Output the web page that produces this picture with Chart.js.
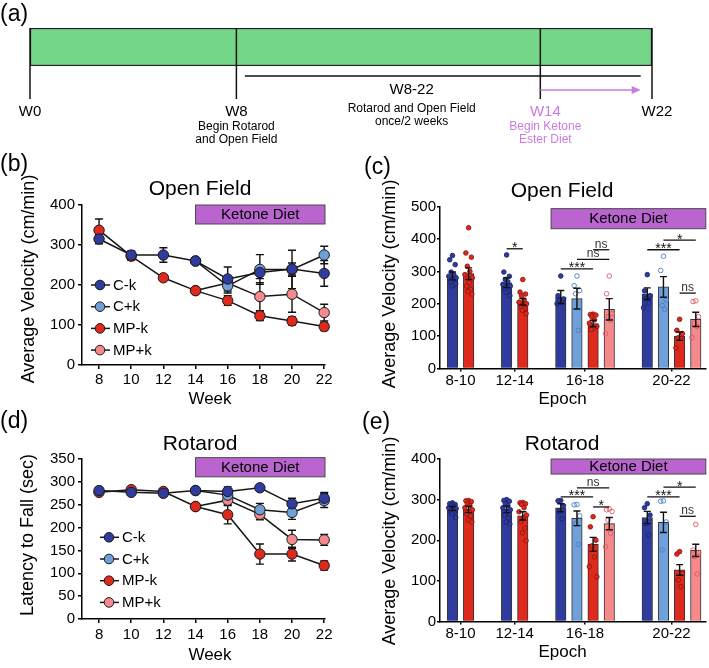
<!DOCTYPE html>
<html>
<head>
<meta charset="utf-8">
<title>Open Field and Rotarod</title>
<script src="https://cdn.jsdelivr.net/npm/chart.js@4.4.1/dist/chart.umd.min.js"></script>
<style>
  html, body { margin: 0; padding: 0; background: #fff; }
  body { width: 709px; height: 668px; position: relative; overflow: hidden;
         font-family: 'Liberation Sans', Arial, Helvetica, sans-serif; color: #000; }
  canvas { position: absolute; left: 0; top: 0; }
  .tag { position: absolute; font-size: 23px; line-height: 23px; white-space: nowrap; }
  .head { position: absolute; font-size: 21px; line-height: 21px; white-space: nowrap; transform: translateX(-50%); }
</style>
</head>
<body>
<canvas id="timeline" width="709" height="668"></canvas>
<canvas id="ofWeekly" width="709" height="668"></canvas>
<canvas id="ofEpoch" width="709" height="668"></canvas>
<canvas id="rrWeekly" width="709" height="668"></canvas>
<canvas id="rrEpoch" width="709" height="668"></canvas>

<div class="tag" style="left:0;top:2px">(a)</div>
<div class="tag" style="left:0;top:152px">(b)</div>
<div class="tag" style="left:364px;top:155px">(c)</div>
<div class="tag" style="left:0;top:409px">(d)</div>
<div class="tag" style="left:362px;top:410px">(e)</div>
<div class="head" style="left:200px;top:177px">Open Field</div>
<div class="head" style="left:562px;top:179px">Open Field</div>
<div class="head" style="left:200px;top:432px">Rotarod</div>
<div class="head" style="left:562px;top:432px">Rotarod</div>

<script>
/* ===========================
   (a) TIMELINE
=========================== */

const timelineLabels = ['W0', 'W8', 'W14', 'W22'];
const timelinePos = [0, 7.3, 18.05, 22];          // where each marker sits on the drawn schematic
const timelineNotes = [[], ['Begin Rotarod', 'and Open Field'], ['Begin Ketone', 'Ester Diet'], []];
const testingSpan = [7.6, 21.6];
const dietSpan = [18.05, 21.6];
const testingText = ['W8-22', 'Rotarod and Open Field', 'once/2 weeks'];
const testingTextPos = 13.5;

/* ===========================
   (b) + (d) WEEKLY DATA
=========================== */

const weeks = [8, 10, 12, 14, 16, 18, 20, 22];
const groups = ['C-k', 'C+k', 'MP-k', 'MP+k'];
const dietStartWeek = 14;

// Open Field, average velocity (cm/min), mean and SEM
const ofWeekCk      = [315, 275, 275, 260, 215, 231, 240, 229];
const ofWeekCkErr   = [12, 10, 18, 5, 30, 15, 15, 32];
const ofWeekCpk     = [null, null, null, 260, 198, 239, 239, 275];
const ofWeekCpkErr  = [null, null, null, 0, 18, 37, 48, 22];
const ofWeekMPk     = [337, 272, 218, 186, 161, 123, 110, 96];
const ofWeekMPkErr  = [28, 10, 5, 5, 12, 12, 10, 10];
const ofWeekMPpk    = [null, null, null, 186, 205, 171, 177, 131];
const ofWeekMPpkErr = [null, null, null, 0, 15, 35, 45, 21];

// Rotarod, latency to fall (sec)
const rrWeekCk      = [281, 277, 275, 281, 279, 287, 252, 264];
const rrWeekCkErr   = [5, 5, 5, 5, 10, 5, 12, 13];
const rrWeekCpk     = [null, null, null, 281, 271, 239, 233, 259];
const rrWeekCpkErr  = [null, null, null, 0, 10, 14, 15, 15];
const rrWeekMPk     = [277, 283, 279, 246, 228, 142, 142, 117];
const rrWeekMPkErr  = [5, 5, 5, 5, 20, 22, 15, 10];
const rrWeekMPpk    = [null, null, null, 246, 260, 229, 174, 173];
const rrWeekMPpkErr = [null, null, null, 0, 10, 12, 20, 12];

/* ===========================
   (c) + (e) EPOCH DATA
=========================== */

const epochs = ['8-10', '12-14', '16-18', '20-22'];

// Open Field bars (mean, SEM)
const ofBarCk      = [286, 265, 221, 231];
const ofBarCkErr   = [12, 15, 20, 18];
const ofBarCpk     = [null, null, 216, 252];
const ofBarCpkErr  = [null, null, 32, 32];
const ofBarMPk     = [293, 206, 139, 100];
const ofBarMPkErr  = [18, 10, 10, 13];
const ofBarMPpk    = [null, null, 183, 152];
const ofBarMPpkErr = [null, null, 33, 22];

// Open Field individual animals
const ofDotsCk = [
    [349, 336, 321, 298, 290, 285, 280, 275, 268, 260, 255, 262],
    [351, 298, 285, 275, 268, 260, 255, 250, 245, 240, 235, 225],
    [286, 225, 215, 210, 205, 200],
    [290, 240, 225, 216, 202, 188]
];
const ofDotsCpk = [null, null, [286, 256, 241, 231, 118], [347, 303, 211, 195, 183]];
const ofDotsMPk = [
    [435, 357, 344, 316, 300, 290, 280, 265, 255, 245, 238, 230],
    [275, 236, 230, 225, 212, 205, 200, 195, 190, 185, 180, 170],
    [168, 167, 165, 160, 150, 140, 130, 125, 120],
    [152, 118, 108, 95, 93, 64]
];
const ofDotsMPpk = [null, null, [286, 231, 170, 160, 149, 108], [209, 207, 160, 140, 130, 96]];

// Rotarod bars (mean, SEM)
const rrBarCk      = [278, 276, 280, 256];
const rrBarCkErr   = [5, 8, 10, 15];
const rrBarCpk     = [null, null, 254, 244];
const rrBarCpkErr  = [null, null, 18, 25];
const rrBarMPk     = [276, 260, 190, 127];
const rrBarMPkErr  = [8, 10, 17, 13];
const rrBarMPpk    = [null, null, 241, 175];
const rrBarMPpkErr = [null, null, 15, 15];

// Rotarod individual animals
const rrDotsCk = [
    [292, 290, 288, 285, 283, 280, 278, 275, 272, 270, 265, 256],
    [300, 298, 296, 290, 285, 280, 275, 270, 262, 255, 245, 240],
    [298, 297, 285, 270, 253],
    [290, 280, 262, 241, 213]
];
const rrDotsCpk = [null, null, [288, 287, 260, 241, 190], [297, 296, 245, 176]];
const rrDotsMPk = [
    [298, 297, 295, 290, 285, 280, 275, 270, 265, 260, 250, 245],
    [293, 292, 290, 288, 280, 270, 262, 255, 245, 230, 218, 199],
    [258, 233, 200, 186, 159, 135, 110],
    [172, 166, 118, 102, 86]
];
const rrDotsMPpk = [null, null, [277, 275, 271, 250, 217, 184], [239, 176, 170, 160, 117]];

// significance brackets (epoch, from group, to group, height, mark)
const ofSig = [
    [1, 'C-k', 'MP-k', 370, '*'],
    [2, 'C-k', 'MP-k', 308, '***'],
    [2, 'C+k', 'MP+k', 337, 'ns'],
    [2, 'MP-k', 'MP+k', 367, 'ns'],
    [3, 'C-k', 'MP-k', 367, '***'],
    [3, 'C+k', 'MP+k', 397, '*'],
    [3, 'MP-k', 'MP+k', 233, 'ns']
];
const rrSig = [
    [2, 'C-k', 'MP-k', 307, '***'],
    [2, 'C+k', 'MP+k', 329, 'ns'],
    [2, 'MP-k', 'MP+k', 282, '*'],
    [3, 'C-k', 'MP-k', 307, '***'],
    [3, 'C+k', 'MP+k', 331, '*'],
    [3, 'MP-k', 'MP+k', 259, 'ns']
];

/* ===========================
   STYLE
=========================== */

const FONT = "'Liberation Sans', Arial, Helvetica, sans-serif";
Chart.defaults.font.family = FONT;
Chart.defaults.font.size = 15;
Chart.defaults.color = '#000';

const groupColors = { 'C-k': '#2f3c9e', 'C+k': '#6fa0da', 'MP-k': '#e0291d', 'MP+k': '#f5898b' };
const dotEdge = { 'C-k': '#1c2570', 'C+k': '#4a7cc6', 'MP-k': '#8e1710', 'MP+k': '#e05a64' };
const KETONE = '#b964cf';
const LILAC = '#c97be3';
const GREEN = '#74d688';
const jitter = [0, -0.17, 0.17, -0.08, 0.08, -0.23, 0.23, 0.03, -0.12, 0.12, -0.03, 0.2];

// bars in an epoch sit one slot apart, epochs separated by a wider gap
const epochGroups = [['C-k', 'MP-k'], ['C-k', 'MP-k'], groups, groups];
const EPOCH_GAP = 2.35;
const epochStart = [];
epochGroups.reduce((s, g, i) => { epochStart[i] = s; return s + g.length - 1 + EPOCH_GAP; }, 0);
const barSlot = (e, g) => epochStart[e] + epochGroups[e].indexOf(g);
const epochCenter = e => epochStart[e] + (epochGroups[e].length - 1) / 2;

/* ===========================
   HELPERS
=========================== */

function padFor(area, yw, xh) {
    return { left: area.left - yw, right: 709 - area.right, top: area.top, bottom: 668 - area.bottom - xh };
}

function yAxisCfg(max, step, tl, pad) {
    return {
        type: 'linear', min: 0, max: max,
        afterFit: s => { s.width = 40; },
        ticks: { stepSize: step, padding: pad, color: '#000', font: { size: 15 } },
        grid: { drawOnChartArea: false, drawTicks: true, tickLength: tl, color: '#000', lineWidth: 1.5 },
        border: { display: true, color: '#000', width: 1.5 }
    };
}

function xAxisCfg(min, max, values, labels, tl, pad) {
    return {
        type: 'linear', min: min, max: max, offset: false,
        afterFit: s => { s.height = 30; },
        afterBuildTicks: s => { s.ticks = values.map(v => ({ value: v })); },
        ticks: { autoSkip: false, maxRotation: 0, padding: pad, color: '#000', font: { size: 15 },
                 callback: (v, i) => labels[i] },
        grid: { offset: false, drawOnChartArea: false, drawTicks: true, tickLength: tl, color: '#000', lineWidth: 1.5 },
        border: { display: true, color: '#000', width: 1.5 }
    };
}

function drawErrors(chart, capHalf) {
    const ctx = chart.ctx;
    ctx.save();
    ctx.strokeStyle = '#111';
    ctx.lineWidth = 1.4;
    chart.data.datasets.forEach((ds, i) => {
        if (!ds.withErrors) return;
        const meta = chart.getDatasetMeta(i);
        const ys = chart.scales[meta.yAxisID];
        meta.data.forEach((el, j) => {
            const d = ds.data[j];
            if (!d || d.y == null || !d.err) return;
            const top = ys.getPixelForValue(d.y + d.err);
            const bot = ys.getPixelForValue(d.y - d.err);
            ctx.beginPath();
            ctx.moveTo(el.x, top); ctx.lineTo(el.x, bot);
            ctx.moveTo(el.x - capHalf, top); ctx.lineTo(el.x + capHalf, top);
            ctx.moveTo(el.x - capHalf, bot); ctx.lineTo(el.x + capHalf, bot);
            ctx.stroke();
        });
    });
    ctx.restore();
}

function drawKetone(chart, fromX, band) {
    const { ctx, scales: { x, y } } = chart;
    const left = x.getPixelForValue(fromX), right = x.getPixelForValue(x.max);
    const top = y.getPixelForValue(band[1]), bot = y.getPixelForValue(band[0]);
    ctx.save();
    ctx.fillStyle = KETONE;
    ctx.fillRect(left, top, right - left, bot - top);
    ctx.strokeStyle = '#4a4a4a';
    ctx.lineWidth = 1;
    ctx.strokeRect(left, top, right - left, bot - top);
    ctx.fillStyle = '#000';
    ctx.font = '15px ' + FONT;
    ctx.textAlign = 'center';
    ctx.textBaseline = 'middle';
    ctx.fillText('Ketone Diet', (left + right) / 2, (top + bot) / 2 + 0.5);
    ctx.restore();
}

function drawLegend(chart, lg) {
    const ctx = chart.ctx;
    ctx.save();
    groups.forEach((g, i) => {
        const cy = lg.y + i * lg.dy;
        ctx.strokeStyle = '#161616';
        ctx.lineWidth = 1.5;
        ctx.beginPath();
        ctx.moveTo(lg.x - 9, cy); ctx.lineTo(lg.x + 10, cy);
        ctx.stroke();
        ctx.beginPath();
        ctx.arc(lg.x, cy, 4.8, 0, Math.PI * 2);
        ctx.fillStyle = groupColors[g];
        ctx.fill();
        ctx.lineWidth = 1;
        ctx.strokeStyle = '#1a1a1a';
        ctx.stroke();
        ctx.fillStyle = '#000';
        ctx.font = '15px ' + FONT;
        ctx.textAlign = 'left';
        ctx.textBaseline = 'middle';
        ctx.fillText(g, lg.x + 13, cy + 0.5);
    });
    ctx.restore();
}

function drawTitles(chart, t) {
    const ctx = chart.ctx;
    ctx.save();
    ctx.fillStyle = '#000';
    ctx.textAlign = 'center';
    ctx.textBaseline = 'middle';
    ctx.font = '17px ' + FONT;
    ctx.fillText(t.x, t.xPos[0], t.xPos[1]);
    ctx.translate(t.yPos[0], t.yPos[1]);
    ctx.rotate(-Math.PI / 2);
    ctx.font = '18px ' + FONT;
    ctx.fillText(t.y, 0, 0);
    ctx.restore();
}

function drawSig(chart, list) {
    const { ctx, scales: { x, y } } = chart;
    ctx.save();
    ctx.textAlign = 'center';
    ctx.textBaseline = 'alphabetic';
    list.forEach(([e, from, to, h, mark]) => {
        const x0 = x.getPixelForValue(barSlot(e, from));
        const x1 = x.getPixelForValue(barSlot(e, to));
        const py = y.getPixelForValue(h);
        ctx.strokeStyle = '#111';
        ctx.lineWidth = 1.3;
        ctx.beginPath();
        ctx.moveTo(x0, py); ctx.lineTo(x1, py);
        ctx.stroke();
        if (mark === 'ns') {
            ctx.fillStyle = '#333';
            ctx.font = '12px ' + FONT;
            ctx.fillText(mark, (x0 + x1) / 2, py - 2);
        } else {
            ctx.fillStyle = '#111';
            ctx.font = '14px ' + FONT;
            ctx.fillText(mark, (x0 + x1) / 2, py + 3.5);
        }
    });
    ctx.restore();
}

/* ===========================
   (a) TIMELINE CHART
=========================== */

const timelinePlugin = {
    id: 'timelineMarks',
    afterDraw(chart) {
        const { ctx, chartArea: a, scales: { x } } = chart;
        const px = v => x.getPixelForValue(v);
        const shift = [0, 0, 5, 5];
        ctx.save();
        ctx.strokeStyle = '#111';
        ctx.lineWidth = 1.5;
        timelinePos.forEach(p => {
            ctx.beginPath();
            ctx.moveTo(px(p), a.top); ctx.lineTo(px(p), a.bottom + 33);
            ctx.stroke();
        });
        ctx.beginPath();
        ctx.moveTo(px(testingSpan[0]), a.bottom + 10); ctx.lineTo(px(testingSpan[1]), a.bottom + 10);
        ctx.stroke();

        const ay = a.bottom + 24, tip = px(dietSpan[1]);
        ctx.strokeStyle = LILAC;
        ctx.fillStyle = LILAC;
        ctx.beginPath();
        ctx.moveTo(px(dietSpan[0]), ay); ctx.lineTo(tip - 6, ay);
        ctx.stroke();
        ctx.beginPath();
        ctx.moveTo(tip, ay); ctx.lineTo(tip - 9, ay - 4); ctx.lineTo(tip - 9, ay + 4);
        ctx.closePath();
        ctx.fill();

        ctx.textAlign = 'center';
        ctx.textBaseline = 'middle';
        timelineLabels.forEach((t, i) => {
            const cx = px(timelinePos[i]) + shift[i];
            ctx.fillStyle = i === 2 ? LILAC : '#000';
            ctx.font = '15px ' + FONT;
            ctx.fillText(t, cx, a.bottom + 46);
            ctx.font = '12px ' + FONT;
            timelineNotes[i].forEach((n, k) => ctx.fillText(n, cx, a.bottom + 61 + k * 13));
        });
        ctx.fillStyle = '#000';
        ctx.font = '15px ' + FONT;
        ctx.fillText(testingText[0], px(testingTextPos), a.bottom + 24);
        ctx.font = '12px ' + FONT;
        ctx.fillText(testingText[1], px(testingTextPos), a.bottom + 43);
        ctx.fillText(testingText[2], px(testingTextPos), a.bottom + 56);
        ctx.restore();
    }
};

new Chart(document.getElementById('timeline'), {
    type: 'bar',
    data: {
        labels: ['study'],
        datasets: [{
            data: [[timelinePos[0], timelinePos[timelinePos.length - 1]]],
            backgroundColor: GREEN,
            borderColor: '#222',
            borderWidth: 1.5,
            borderSkipped: false,
            barPercentage: 1,
            categoryPercentage: 1
        }]
    },
    options: {
        indexAxis: 'y',
        responsive: false,
        animation: false,
        events: [],
        layout: { padding: { left: 30, right: 57, top: 28, bottom: 602 } },
        scales: {
            x: { type: 'linear', min: 0, max: 22, display: false },
            y: { display: false }
        },
        plugins: { legend: { display: false }, tooltip: { enabled: false } }
    },
    plugins: [timelinePlugin]
});

/* ===========================
   (b) + (d) LINE CHARTS
=========================== */

function weeklyChart(id, area, yMax, yStep, series, opt) {
    const datasets = series.map((s, i) => ({
        label: groups[i],
        data: weeks.map((w, j) => ({ x: w, y: s[0][j], err: s[1][j] })),
        withErrors: true,
        borderColor: '#161616',
        borderWidth: 1.5,
        pointRadius: 5.2,
        pointHoverRadius: 5.2,
        pointBackgroundColor: groupColors[groups[i]],
        pointBorderColor: '#1a1a1a',
        pointBorderWidth: 1,
        clip: false,
        spanGaps: false
    }));
    new Chart(document.getElementById(id), {
        type: 'line',
        data: { datasets },
        options: {
            responsive: false,
            animation: false,
            events: [],
            layout: { padding: padFor(area, 40, 30) },
            scales: {
                x: xAxisCfg(6.94, 22.05, weeks, weeks.map(String), 4, opt.xPad),
                y: yAxisCfg(yMax, yStep, 4, 3)
            },
            plugins: { legend: { display: false }, tooltip: { enabled: false } }
        },
        plugins: [{
            id: id + 'Marks',
            beforeDatasetsDraw: c => drawErrors(c, 4),
            afterDraw: c => {
                drawKetone(c, dietStartWeek, opt.band);
                drawLegend(c, opt.legend);
                drawTitles(c, opt.titles);
            }
        }]
    });
}

weeklyChart('ofWeekly', { left: 82, right: 325, top: 205, bottom: 365 }, 400, 100,
    [[ofWeekCk, ofWeekCkErr], [ofWeekCpk, ofWeekCpkErr], [ofWeekMPk, ofWeekMPkErr], [ofWeekMPpk, ofWeekMPpkErr]],
    {
        xPad: 2,
        band: [352.5, 400],
        legend: { x: 100, y: 285, dy: 21.7 },
        titles: { x: 'Week', xPos: [210, 399], y: 'Average Velocity (cm/min)', yPos: [29, 279] }
    });

weeklyChart('rrWeekly', { left: 82, right: 325, top: 459, bottom: 619 }, 350, 50,
    [[rrWeekCk, rrWeekCkErr], [rrWeekCpk, rrWeekCpkErr], [rrWeekMPk, rrWeekMPkErr], [rrWeekMPpk, rrWeekMPpkErr]],
    {
        xPad: 3,
        band: [311, 353],
        legend: { x: 109, y: 537.3, dy: 21.7 },
        titles: { x: 'Week', xPos: [210, 655], y: 'Latency to Fall (sec)', yPos: [28, 535] }
    });

/* ===========================
   (c) + (e) BAR CHARTS
=========================== */

function epochChart(id, area, yMax, bars, dots, sig, opt) {
    const datasets = [];
    groups.forEach((g, gi) => {
        const pts = [];
        bars[gi][0].forEach((v, e) => {
            if (v != null) pts.push({ x: barSlot(e, g), y: v, err: bars[gi][1][e] });
        });
        datasets.push({
            type: 'bar', label: g, data: pts, withErrors: true,
            backgroundColor: groupColors[g], borderColor: '#333', borderWidth: 1,
            barThickness: 10.5, grouped: false, order: 2
        });
    });
    groups.forEach((g, gi) => {
        const pts = [];
        dots[gi].forEach((list, e) => {
            if (!list) return;
            list.forEach((v, k) => pts.push({ x: barSlot(e, g) + jitter[k % jitter.length], y: v }));
        });
        const hollow = g.indexOf('+') > -1;
        datasets.push({
            type: 'scatter', label: g + ' animals', data: pts,
            pointRadius: 2.3, pointHoverRadius: 2.3,
            pointBackgroundColor: hollow ? 'rgba(255,255,255,0)' : groupColors[g],
            pointBorderColor: dotEdge[g], pointBorderWidth: 0.9,
            order: 1, clip: false
        });
    });
    const last = epochGroups.length - 1;
    new Chart(document.getElementById(id), {
        type: 'bar',
        data: { datasets },
        options: {
            responsive: false,
            animation: false,
            events: [],
            layout: { padding: padFor(area, 40, 30) },
            scales: {
                x: xAxisCfg(-0.77, epochStart[last] + 3.62, epochs.map((_, e) => epochCenter(e)), epochs, 3, 0),
                y: yAxisCfg(yMax, 100, 3, 1)
            },
            plugins: { legend: { display: false }, tooltip: { enabled: false } }
        },
        plugins: [{
            id: id + 'Marks',
            afterDatasetsDraw: c => drawErrors(c, 3.5),
            afterDraw: c => {
                drawSig(c, sig);
                drawKetone(c, epochStart[2] - 0.6, opt.band);
                drawTitles(c, opt.titles);
            }
        }]
    });
}

epochChart('ofEpoch', { left: 440, right: 708, top: 206.7, bottom: 368.5 }, 500,
    [[ofBarCk, ofBarCkErr], [ofBarCpk, ofBarCpkErr], [ofBarMPk, ofBarMPkErr], [ofBarMPpk, ofBarMPpkErr]],
    [ofDotsCk, ofDotsCpk, ofDotsMPk, ofDotsMPpk], ofSig,
    {
        band: [432, 494],
        titles: { x: 'Epoch', xPos: [562.5, 399], y: 'Average Velocity (cm/min)', yPos: [390, 284] }
    });

epochChart('rrEpoch', { left: 440, right: 708, top: 459, bottom: 621.5 }, 400,
    [[rrBarCk, rrBarCkErr], [rrBarCpk, rrBarCpkErr], [rrBarMPk, rrBarMPkErr], [rrBarMPpk, rrBarMPpkErr]],
    [rrDotsCk, rrDotsCpk, rrDotsMPk, rrDotsMPpk], rrSig,
    {
        band: [363, 400],
        titles: { x: 'Epoch', xPos: [562.5, 652], y: 'Average Velocity (cm/min)', yPos: [390, 541] }
    });
</script>
</body>
</html>
